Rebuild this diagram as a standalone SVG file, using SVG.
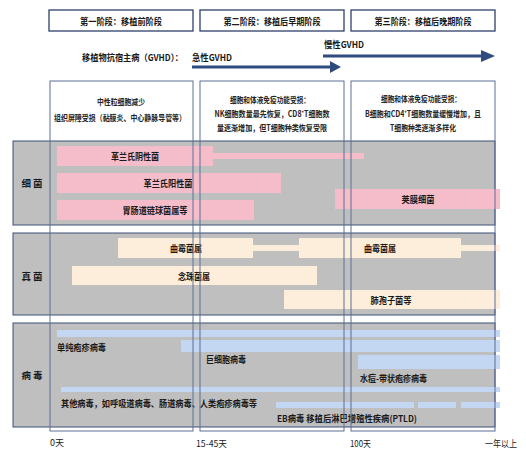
<svg xmlns="http://www.w3.org/2000/svg" width="526" height="451" viewBox="0 0 526 451">
<defs>
<style>
text{font-family:"Noto Sans CJK SC","Noto Sans",sans-serif;fill:#1a1a1a;dominant-baseline:central}
.t{font-size:9.5px;font-weight:700;text-anchor:middle}
.d{font-size:8.5px;font-weight:700;text-anchor:middle;fill:#262626}
.b{font-size:9px;font-weight:700;text-anchor:middle}
.v{font-size:9px;font-weight:700}
.r{font-size:9.5px;font-weight:700;text-anchor:middle}
.ax{font-size:9px}
.stage{fill:#fff;stroke:#2F3F6B;stroke-width:1.3}
.col{fill:none;stroke:#5D6E96;stroke-width:1}
.colbg{fill:#fff}
.row{fill:#BFBFBF;stroke:#3E4F77;stroke-width:1}
.pk{fill:#F5BDC9}
.cr{fill:#FDEEDC}
.bl{fill:#C3D7F2}
.arr{stroke:#2E4B7F;stroke-width:3;fill:none}
.ah{fill:#2E4B7F}
</style>
</defs>
<rect width="526" height="451" fill="#fff"/>

<g id="stage1"><rect class="stage" x="49" y="10" width="144" height="21"/><text class="t" x="121" y="21" textLength="82" lengthAdjust="spacingAndGlyphs">第一阶段：移植前阶段</text></g>
<g id="stage2"><rect class="stage" x="200" y="10" width="144" height="21"/><text class="t" x="272" y="21" textLength="97" lengthAdjust="spacingAndGlyphs">第二阶段：移植后早期阶段</text></g>
<g id="stage3"><rect class="stage" x="351" y="10" width="144" height="21"/><text class="t" x="423" y="21" textLength="97" lengthAdjust="spacingAndGlyphs">第三阶段：移植后晚期阶段</text></g>

<g id="gvhd-label">
<text class="v" x="82" y="57" textLength="101" lengthAdjust="spacingAndGlyphs">移植物抗宿主病（GVHD）：</text>
<text class="v" x="192" y="57" textLength="40" lengthAdjust="spacingAndGlyphs">急性GVHD</text>
<text class="v" x="324" y="44" textLength="40" lengthAdjust="spacingAndGlyphs">慢性GVHD</text>
</g>

<g id="connectors">
<line class="arr" x1="192" y1="67" x2="331" y2="67"/>
<polygon class="ah" points="330,61 341,67 330,73"/>
<line class="arr" x1="323" y1="56" x2="482" y2="56"/>
<polygon class="ah" points="481,50 495,56 481,62"/>
</g>

<g id="column-backgrounds">
<rect class="colbg" x="50" y="81" width="143" height="350"/>
<rect class="colbg" x="200" y="81" width="144" height="350"/>
<rect class="colbg" x="351" y="81" width="144" height="350"/>
</g>

<g id="desc1">
<text class="d" x="121" y="101" textLength="48" lengthAdjust="spacingAndGlyphs">中性粒细胞减少</text>
<text class="d" x="120" y="117" textLength="132" lengthAdjust="spacingAndGlyphs">组织屏障受损（黏膜炎、中心静脉导管等）</text>
</g>
<g id="desc2">
<text class="d" x="270" y="99" textLength="80" lengthAdjust="spacingAndGlyphs">细胞和体液免疫功能受损：</text>
<text class="d" x="272" y="113" textLength="115" lengthAdjust="spacingAndGlyphs">NK细胞数量最先恢复，CD8⁺T细胞数</text>
<text class="d" x="272" y="127" textLength="110" lengthAdjust="spacingAndGlyphs">量逐渐增加，但T细胞种类恢复受限</text>
</g>
<g id="desc3">
<text class="d" x="421" y="98" textLength="80" lengthAdjust="spacingAndGlyphs">细胞和体液免疫功能受损：</text>
<text class="d" x="423" y="113" textLength="116" lengthAdjust="spacingAndGlyphs">B细胞和CD4⁺T细胞数量缓慢增加，且</text>
<text class="d" x="423" y="127" textLength="66" lengthAdjust="spacingAndGlyphs">T细胞种类逐渐多样化</text>
</g>

<g id="row-bacteria">
<rect class="row" x="13" y="141" width="482" height="84"/>
<text class="r" x="32" y="183">细 菌</text>
</g>
<g id="row-fungi">
<rect class="row" x="13" y="233" width="482" height="82"/>
<text class="r" x="32" y="276">真 菌</text>
</g>
<g id="row-virus">
<rect class="row" x="13" y="323" width="482" height="104"/>
<text class="r" x="32" y="375">病 毒</text>
</g>

<g id="gram-negative">
<rect class="pk" x="213" y="153" width="151" height="6"/>
<rect class="pk" x="57" y="146" width="156" height="20"/>
<text class="b" x="135" y="156" textLength="48" lengthAdjust="spacingAndGlyphs">革兰氏阴性菌</text>
</g>
<g id="gram-positive">
<rect class="pk" x="57" y="173" width="224" height="20"/>
<text class="b" x="168" y="183" textLength="49" lengthAdjust="spacingAndGlyphs">革兰氏阳性菌</text>
</g>
<g id="streptococcus">
<rect class="pk" x="57" y="200" width="197" height="20"/>
<text class="b" x="155" y="210" textLength="65" lengthAdjust="spacingAndGlyphs">胃肠道链球菌属等</text>
</g>
<g id="encapsulated">
<rect class="pk" x="335" y="189" width="165" height="20"/>
<text class="b" x="418" y="199" textLength="33" lengthAdjust="spacingAndGlyphs">荚膜细菌</text>
</g>

<g id="aspergillus">
<rect class="cr" x="253" y="245" width="46" height="6"/>
<rect class="cr" x="461" y="245" width="39" height="6"/>
<rect class="cr" x="118" y="238" width="135" height="20"/>
<rect class="cr" x="299" y="238" width="162" height="20"/>
<text class="b" x="186" y="248" textLength="32" lengthAdjust="spacingAndGlyphs">曲霉菌属</text>
<text class="b" x="380" y="248" textLength="32" lengthAdjust="spacingAndGlyphs">曲霉菌属</text>
</g>
<g id="candida">
<rect class="cr" x="72" y="266" width="245" height="19"/>
<text class="b" x="194" y="276" textLength="32" lengthAdjust="spacingAndGlyphs">念珠菌属</text>
</g>
<g id="pneumocystis">
<rect class="cr" x="284" y="290" width="216" height="19"/>
<text class="b" x="391" y="300" textLength="41" lengthAdjust="spacingAndGlyphs">肺孢子菌等</text>
</g>

<g id="hsv">
<rect class="bl" x="57" y="330" width="443" height="7"/>
<text class="v" x="57" y="347" textLength="49" lengthAdjust="spacingAndGlyphs">单纯疱疹病毒</text>
</g>
<g id="cmv">
<rect class="bl" x="181" y="340" width="319" height="12"/>
<text class="v" x="206" y="359" textLength="40" lengthAdjust="spacingAndGlyphs">巨细胞病毒</text>
</g>
<g id="vzv">
<rect class="bl" x="358" y="355" width="142" height="14"/>
<text class="v" x="360" y="378" textLength="67" lengthAdjust="spacingAndGlyphs">水痘-带状疱疹病毒</text>
</g>
<g id="other-virus">
<rect class="bl" x="61" y="387" width="439" height="5"/>
<text class="v" x="61" y="403" textLength="196" lengthAdjust="spacingAndGlyphs">其他病毒，如呼吸道病毒、肠道病毒、人类疱疹病毒等</text>
</g>
<g id="ebv">
<rect class="bl" x="276" y="402" width="138" height="6"/>
<rect class="bl" x="418" y="402" width="38" height="6"/>
<rect class="bl" x="461" y="402" width="39" height="6"/>
<text class="v" x="277" y="418" textLength="140" lengthAdjust="spacingAndGlyphs">EB病毒  移植后淋巴增殖性疾病(PTLD)</text>
</g>

<g id="column-outlines">
<rect class="col" x="50" y="81" width="143" height="350"/>
<rect class="col" x="200" y="81" width="144" height="350"/>
<rect class="col" x="351" y="81" width="144" height="350"/>
</g>

<g id="axis">
<text class="ax" x="50" y="442">0天</text>
<text class="ax" x="196" y="443" textLength="31" lengthAdjust="spacingAndGlyphs">15-45天</text>
<text class="ax" x="350" y="443" textLength="21" lengthAdjust="spacingAndGlyphs">100天</text>
<text class="ax" x="485" y="443" textLength="32" lengthAdjust="spacingAndGlyphs">一年以上</text>
</g>
</svg>
